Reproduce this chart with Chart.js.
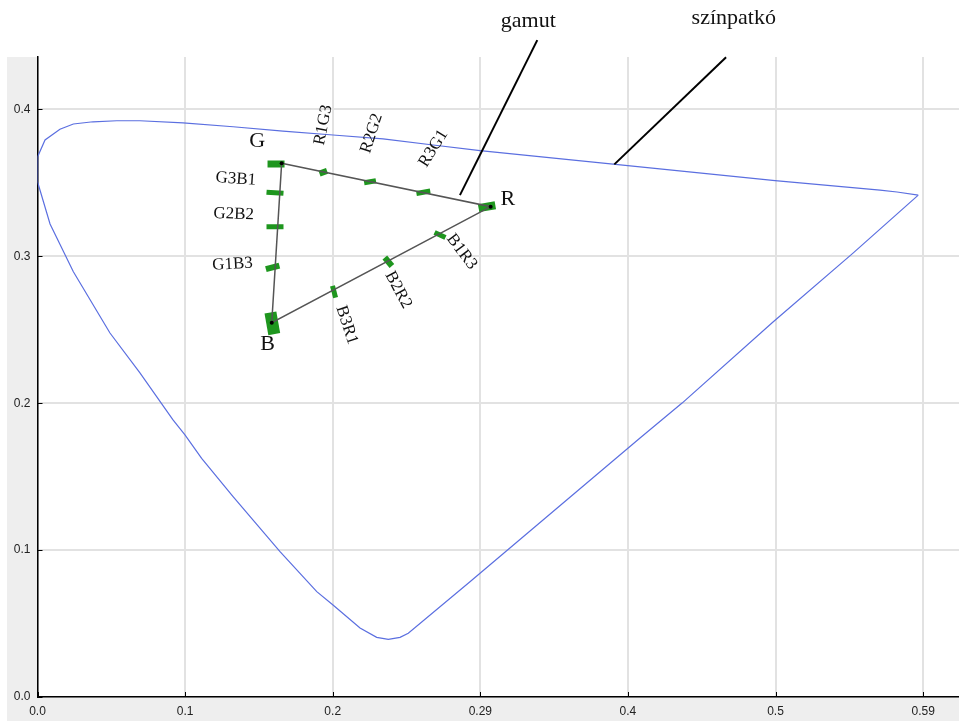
<!DOCTYPE html>
<html>
<head>
<meta charset="utf-8">
<script src="https://cdn.jsdelivr.net/npm/chart.js@4.4.1/dist/chart.umd.min.js"></script>
<style>
body { margin: 0; background: #fff; }
#wrap { width: 959px; height: 721px; }
</style>
</head>
<body>
<div id="wrap"><canvas id="gamut" width="959" height="721"></canvas></div>
<script>
// spectral locus ("színpatkó"), traced from the red end along the top, down and back
var locusX = [0.5967, 0.5823, 0.5708, 0.4997, 0.3899, 0.2998, 0.2680, 0.2341, 0.2002, 0.1663,
              0.1325, 0.0986, 0.0694, 0.0537, 0.0376, 0.0243, 0.0152, 0.0051, 0.0001, 0.0000,
              0.0085, 0.0243, 0.0491, 0.0694, 0.0918, 0.0999, 0.1112, 0.1325, 0.1643, 0.1892,
              0.2002, 0.2185, 0.2298, 0.2377, 0.2456, 0.2512, 0.2930, 0.4082, 0.4367, 0.4983,
              0.5525, 0.5967];
var locusY = [0.3417, 0.3438, 0.3451, 0.3515, 0.3628, 0.3719, 0.3758, 0.3799, 0.3826, 0.3853,
              0.3882, 0.3909, 0.3923, 0.3923, 0.3916, 0.3901, 0.3865, 0.3792, 0.3678, 0.3508,
              0.3220, 0.2895, 0.2478, 0.2206, 0.1886, 0.1784, 0.1625, 0.1364, 0.0989, 0.0717,
              0.0626, 0.0470, 0.0406, 0.0393, 0.0406, 0.0434, 0.0785, 0.1763, 0.2001, 0.2553,
              0.3022, 0.3417];

// gamut triangle corners: G, R, B
var cornerX = [0.1654, 0.3070, 0.1587];
var cornerY = [0.3633, 0.3338, 0.2548];

// measured (green) points: G, G3B1, G2B2, G1B3, B, R1G3, R2G2, R3G1, R, B1R3, B2R2, B3R1
var markX = [0.1616, 0.1609, 0.1609, 0.1593, 0.1591, 0.1936, 0.2253, 0.2614, 0.3045, 0.2727, 0.2377, 0.2009];
var markY = [0.3628, 0.3433, 0.3202, 0.2925, 0.2544, 0.3572, 0.3508, 0.3436, 0.3338, 0.3145, 0.2963, 0.2759];

var xTickLabels = ['0.0', '0.1', '0.2', '0.29', '0.4', '0.5', '0.59'];
var yTickLabels = ['0.0', '0.1', '0.2', '0.3', '0.4'];

// text notes, anchored in data units
var noteText = ['G', 'R', 'B', 'G3B1', 'G2B2', 'G1B3', 'R1G3', 'R2G2', 'R3G1', 'B1R3', 'B2R2', 'B3R1', 'gamut', 'színpatkó'];
var noteX = [0.1489, 0.3186, 0.1558, 0.1343, 0.1329, 0.1321, 0.1936, 0.2264, 0.2682, 0.2874, 0.2444, 0.2095, 0.3325, 0.4717];
var noteY = [0.3785, 0.3390, 0.2400, 0.3526, 0.3287, 0.2946, 0.3894, 0.3837, 0.3735, 0.3031, 0.2771, 0.2532, 0.4598, 0.4621];

// pointer lines from the two captions
var leaderX1 = [0.3386, 0.4665];
var leaderY1 = [0.4472, 0.4355];
var leaderX2 = [0.2862, 0.3908];
var leaderY2 = [0.3417, 0.3626];

var noteAngle = [0, 0, 0, 4, 2, -3, -79, -72, -58, 53, 62, 72, 0, 0];
var noteSize = [22, 22, 22, 17, 17, 17, 17, 17, 17, 17, 17, 17, 22, 22];
var markRadius = [8.5, 8.5, 8.5, 7, 11, 4, 6, 7, 8.5, 6, 5.5, 6];
var markWidth = [7, 5, 5, 6, 12, 6, 5, 5, 8, 5, 6, 5];
var markAngle = [0, 4, 0, -15, 80, -20, -10, -10, -10, 25, 50, 75];

function toPoints(xs, ys) {
    return xs.map(function (x, i) { return { x: x, y: ys[i] }; });
}

var trianglePoints = toPoints(cornerX, cornerY);
trianglePoints.push(trianglePoints[0]);

var notesPlugin = {
    id: 'notes',
    beforeDraw: function (chart) {
        var ctx = chart.ctx, a = chart.chartArea;
        ctx.save();
        ctx.fillStyle = '#eeeeee';
        ctx.fillRect(7, a.top, chart.width - 7, chart.height - a.top);
        ctx.fillStyle = '#ffffff';
        ctx.fillRect(a.left, a.top, a.right - a.left, a.bottom - a.top);
        ctx.restore();
    },
    afterDraw: function (chart) {
        var ctx = chart.ctx, a = chart.chartArea;
        var xs = chart.scales.x, ys = chart.scales.y;
        ctx.save();

        // small inward tick marks
        ctx.strokeStyle = '#000';
        ctx.lineWidth = 1;
        xs.ticks.forEach(function (t) {
            var px = Math.round(xs.getPixelForValue(t.value)) + 0.5;
            ctx.beginPath();
            ctx.moveTo(px, a.bottom);
            ctx.lineTo(px, a.bottom - 5);
            ctx.stroke();
        });
        ys.ticks.forEach(function (t) {
            var py = Math.round(ys.getPixelForValue(t.value)) + 0.5;
            ctx.beginPath();
            ctx.moveTo(a.left, py);
            ctx.lineTo(a.left + 5, py);
            ctx.stroke();
        });

        // caption pointers
        ctx.lineWidth = 2;
        ctx.strokeStyle = '#000';
        for (var i = 0; i < leaderX1.length; i++) {
            ctx.beginPath();
            ctx.moveTo(xs.getPixelForValue(leaderX1[i]), ys.getPixelForValue(leaderY1[i]));
            ctx.lineTo(xs.getPixelForValue(leaderX2[i]), ys.getPixelForValue(leaderY2[i]));
            ctx.stroke();
        }

        // texts
        ctx.fillStyle = '#111';
        ctx.textAlign = 'center';
        ctx.textBaseline = 'middle';
        for (var j = 0; j < noteText.length; j++) {
            ctx.save();
            ctx.translate(xs.getPixelForValue(noteX[j]), ys.getPixelForValue(noteY[j]));
            ctx.rotate(noteAngle[j] * Math.PI / 180);
            ctx.font = noteSize[j] + 'px "Liberation Serif", "Times New Roman", serif';
            ctx.fillText(noteText[j], 0, 0);
            ctx.restore();
        }
        ctx.restore();
    }
};

var ctx = document.getElementById('gamut').getContext('2d');

var gamutChart = new Chart(ctx, {
    type: 'scatter',
    data: {
        datasets: [
            {
                label: 'színpatkó',
                data: toPoints(locusX, locusY),
                showLine: true,
                borderColor: '#5b6fe0',
                borderWidth: 1.2,
                pointRadius: 0,
                tension: 0,
                order: 4
            },
            {
                label: 'mért pontok',
                data: toPoints(markX, markY),
                pointStyle: 'line',
                pointRadius: markRadius,
                pointBorderWidth: markWidth,
                pointRotation: markAngle,
                pointBorderColor: '#1e961e',
                pointBackgroundColor: '#1e961e',
                order: 3
            },
            {
                label: 'gamut',
                data: trianglePoints,
                showLine: true,
                borderColor: '#555555',
                borderWidth: 1.5,
                pointRadius: 0,
                tension: 0,
                order: 2
            },
            {
                label: 'csúcsok',
                data: toPoints(cornerX, cornerY),
                pointRadius: 2,
                pointBorderWidth: 0,
                pointBackgroundColor: '#000',
                order: 1
            }
        ]
    },
    options: {
        responsive: false,
        animation: false,
        events: [],
        layout: { autoPadding: false, padding: { left: 7, top: 57, right: 0, bottom: 0 } },
        plugins: {
            legend: { display: false },
            tooltip: { enabled: false }
        },
        scales: {
            x: {
                type: 'linear',
                min: 0,
                max: 0.6243,
                bounds: 'data',
                afterFit: function (scale) {
                    scale.height = 24;
                    scale.paddingLeft = 0;
                    scale.paddingRight = 0;
                },
                grid: { color: '#e2e2e2', lineWidth: 2, drawTicks: false },
                border: { color: '#000', width: 1.5 },
                ticks: {
                    stepSize: 0.1,
                    includeBounds: false,
                    padding: 7,
                    maxRotation: 0,
                    color: '#222',
                    font: { family: '"Liberation Sans", Arial, sans-serif', size: 12 },
                    callback: function (value, index) { return xTickLabels[index]; }
                }
            },
            y: {
                type: 'linear',
                min: 0,
                max: 0.4357,
                bounds: 'data',
                afterFit: function (scale) {
                    scale.width = 30.5;
                    scale.paddingTop = 0;
                    scale.paddingBottom = 0;
                },
                grid: { color: '#e2e2e2', lineWidth: 2, drawTicks: false },
                border: { color: '#000', width: 1.5 },
                ticks: {
                    stepSize: 0.1,
                    includeBounds: false,
                    padding: 7,
                    color: '#222',
                    font: { family: '"Liberation Sans", Arial, sans-serif', size: 12 },
                    callback: function (value, index) { return yTickLabels[index]; }
                }
            }
        }
    },
    plugins: [notesPlugin]
});
</script>
</body>
</html>
